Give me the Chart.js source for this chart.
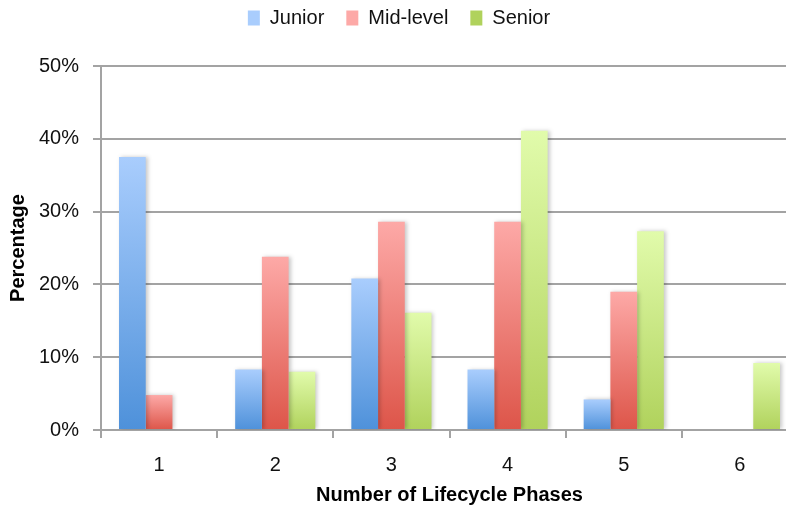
<!DOCTYPE html>
<html>
<head>
<meta charset="utf-8">
<script src="https://cdn.jsdelivr.net/npm/chart.js@4"></script>
<style>
    html, body { margin: 0; padding: 0; background: #fff; overflow: hidden; }
    canvas { display: block; }
</style>
</head>
<body>
<canvas id="myChart" width="800" height="510"></canvas>
<script>
const phases = ["1", "2", "3", "4", "5", "6"];
const juniorData = [37.5, 8.3, 20.8, 8.3, 4.2, 0];
const midLevelData = [4.8, 23.8, 28.6, 28.6, 19.0, 0];
const seniorData = [0, 8.0, 16.1, 41.1, 27.3, 9.2];
const yTicks = [0, 10, 20, 30, 40, 50];

const FONT = "'Liberation Sans', Arial, sans-serif";

// top/bottom colours of each series' vertical gradient
const palette = {
    junior: ["#a9cdfd", "#4e91da"],
    mid: ["#fda9a7", "#dd5549"],
    senior: ["#e1fbab", "#b0d25c"],
};

const barGradient = (colors) => (context) => {
    const chart = context.chart;
    const ctx = chart.ctx;
    if (context.type === "dataset") {
        // legend swatch
        const g = ctx.createLinearGradient(0, 9, 0, 26);
        g.addColorStop(0, colors[0]);
        g.addColorStop(1, colors[1]);
        return g;
    }
    const yScale = chart.scales.y;
    if (!chart.chartArea || !yScale) return colors[1];
    const top = yScale.getPixelForValue(context.raw);
    const base = yScale.getPixelForValue(0);
    if (base - top < 1) return colors[1];
    const g = ctx.createLinearGradient(0, top, 0, base);
    g.addColorStop(0, colors[0]);
    g.addColorStop(1, colors[1]);
    return g;
};

// soft drop shadow behind the bars
const barShadow = {
    id: "barShadow",
    beforeDatasetsDraw(chart) {
        const ctx = chart.ctx;
        ctx.save();
        ctx.shadowColor = "rgba(0, 0, 0, 0.22)";
        ctx.shadowBlur = 4;
        ctx.shadowOffsetX = 2;
        ctx.shadowOffsetY = 0;
    },
    afterDatasetsDraw(chart) {
        chart.ctx.restore();
    },
};

// fixed legend band height so the plot starts at the same place
const legendHeight = {
    id: "legendHeight",
    beforeInit(chart) {
        const origFit = chart.legend.fit;
        chart.legend.fit = function () {
            origFit.bind(chart.legend)();
            this.height = 80;
        };
    },
};

const ctx = document.getElementById("myChart").getContext("2d");

new Chart(ctx, {
    type: "bar",
    data: {
        labels: phases,
        datasets: [
            {
                label: "Junior",
                data: juniorData,
                backgroundColor: barGradient(palette.junior),
            },
            {
                label: "Mid-level",
                data: midLevelData,
                backgroundColor: barGradient(palette.mid),
            },
            {
                label: "Senior",
                data: seniorData,
                backgroundColor: barGradient(palette.senior),
            },
        ],
    },
    options: {
        responsive: false,
        animation: false,
        categoryPercentage: 0.69,
        barPercentage: 1.0,
        layout: {
            padding: { top: -14, right: 2, bottom: 0, left: 0 },
        },
        plugins: {
            legend: {
                position: "top",
                labels: {
                    boxWidth: 12,
                    boxHeight: 15,
                    padding: 22,
                    color: "#111",
                    font: { family: FONT, size: 20 },
                },
            },
            tooltip: { enabled: false },
        },
        scales: {
            x: {
                offset: true,
                grid: {
                    offset: true,
                    drawOnChartArea: false,
                    drawTicks: true,
                    tickLength: 8,
                    color: "#a3a3a3",
                    lineWidth: 2,
                },
                border: { color: "#a3a3a3", width: 2 },
                ticks: {
                    color: "#111",
                    padding: 15,
                    font: { family: FONT, size: 20 },
                },
                title: {
                    display: true,
                    text: "Number of Lifecycle Phases",
                    color: "#000",
                    padding: { top: 0, bottom: 3 },
                    font: { family: FONT, size: 20, weight: "bold" },
                },
                afterFit(scale) {
                    scale.height = 80;
                },
            },
            y: {
                min: 0,
                max: 50,
                afterBuildTicks(scale) {
                    scale.ticks = yTicks.map((v) => ({ value: v }));
                },
                grid: {
                    color: "#a3a3a3",
                    lineWidth: 2,
                    drawTicks: true,
                    tickLength: 8,
                },
                border: { color: "#a3a3a3", width: 2 },
                ticks: {
                    color: "#111",
                    padding: 14,
                    font: { family: FONT, size: 20 },
                    callback: (value) => value + "%",
                },
                title: {
                    display: true,
                    text: "Percentage",
                    color: "#000",
                    padding: { top: 6, bottom: 0 },
                    font: { family: FONT, size: 20, weight: "bold" },
                },
                afterFit(scale) {
                    scale.width = 101;
                },
            },
        },
    },
    plugins: [barShadow, legendHeight],
});
</script>
</body>
</html>
